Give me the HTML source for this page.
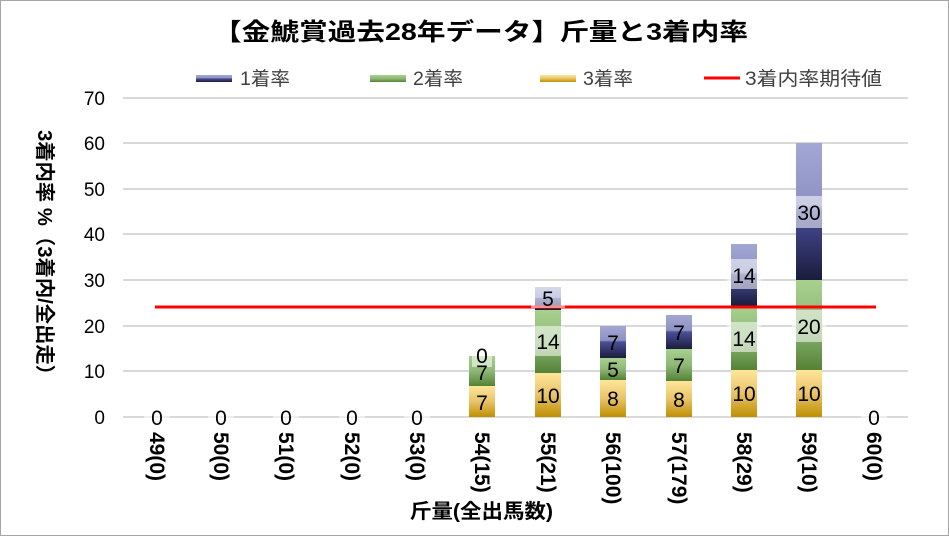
<!DOCTYPE html>
<html><head><meta charset="utf-8"><style>
html,body{margin:0;padding:0;background:#fff}
svg{display:block;font-family:"Liberation Sans","Noto Sans CJK JP",sans-serif}
</style></head><body>
<svg width="949" height="536" viewBox="0 0 949 536" xmlns="http://www.w3.org/2000/svg">
<defs>
<linearGradient id="b" x1="0" y1="0" x2="0" y2="1"><stop offset="0" stop-color="#a3a7d4"/><stop offset="0.45" stop-color="#8d92c2"/><stop offset="0.5" stop-color="#4a4f9a"/><stop offset="1" stop-color="#1a1c3c"/></linearGradient>
<linearGradient id="g" x1="0" y1="0" x2="0" y2="1"><stop offset="0" stop-color="#a8d18e"/><stop offset="0.5" stop-color="#8fb878"/><stop offset="1" stop-color="#548235"/></linearGradient>
<linearGradient id="y" x1="0" y1="0" x2="0" y2="1"><stop offset="0" stop-color="#ffe699"/><stop offset="0.5" stop-color="#e8c36a"/><stop offset="1" stop-color="#bf8f00"/></linearGradient>
</defs>
<rect x="0.5" y="0.5" width="948" height="535" fill="#fff" stroke="#a6a6a6"/>
<text x="213" y="40" font-size="24" font-weight="bold" textLength="535" lengthAdjust="spacingAndGlyphs">【金鯱賞過去28年データ】斤量と3着内率</text>
<g font-size="19" fill="#404040">
<rect x="196" y="75" width="36" height="7" fill="url(#b)"/><text x="240" y="85" textLength="50" lengthAdjust="spacingAndGlyphs">1着率</text>
<rect x="370" y="75" width="36" height="7" fill="url(#g)"/><text x="413" y="85" textLength="50" lengthAdjust="spacingAndGlyphs">2着率</text>
<rect x="540" y="75" width="36" height="7" fill="url(#y)"/><text x="583" y="85" textLength="50" lengthAdjust="spacingAndGlyphs">3着率</text>
<line x1="704" y1="78" x2="740" y2="78" stroke="#f00" stroke-width="3"/><text x="745" y="85" textLength="137" lengthAdjust="spacingAndGlyphs">3着内率期待値</text>
</g>
<g stroke="#d9d9d9" stroke-width="2">
<line x1="123" x2="908" y1="98" y2="98"/><line x1="123" x2="908" y1="143" y2="143"/><line x1="123" x2="908" y1="189" y2="189"/><line x1="123" x2="908" y1="234" y2="234"/><line x1="123" x2="908" y1="280" y2="280"/><line x1="123" x2="908" y1="326" y2="326"/><line x1="123" x2="908" y1="371" y2="371"/><line x1="123" x2="908" y1="417" y2="417"/>
</g>
<g font-size="19" text-anchor="end">
<text x="105" y="105">70</text><text x="105" y="150">60</text><text x="105" y="196">50</text><text x="105" y="241">40</text><text x="105" y="287">30</text><text x="105" y="333">20</text><text x="105" y="378">10</text><text x="105" y="424">0</text>
</g>
<text transform="translate(38,130) rotate(90)" font-size="20" font-weight="bold" textLength="255" lengthAdjust="spacingAndGlyphs">3着内率 %（3着内/全出走）</text>
<rect x="469" y="386" width="26" height="31" fill="url(#y)"/><rect x="469" y="356" width="26" height="30" fill="url(#g)"/>
<rect x="535" y="373" width="26" height="44" fill="url(#y)"/><rect x="535" y="310" width="26" height="63" fill="url(#g)"/><rect x="535" y="287" width="26" height="23" fill="url(#b)"/>
<rect x="600" y="380" width="26" height="37" fill="url(#y)"/><rect x="600" y="358" width="26" height="22" fill="url(#g)"/><rect x="600" y="326" width="26" height="32" fill="url(#b)"/>
<rect x="666" y="381" width="26" height="36" fill="url(#y)"/><rect x="666" y="349" width="26" height="32" fill="url(#g)"/><rect x="666" y="315" width="26" height="34" fill="url(#b)"/>
<rect x="731" y="370" width="26" height="47" fill="url(#y)"/><rect x="731" y="306" width="26" height="64" fill="url(#g)"/><rect x="731" y="244" width="26" height="62" fill="url(#b)"/>
<rect x="796" y="370" width="26" height="47" fill="url(#y)"/><rect x="796" y="280" width="26" height="90" fill="url(#g)"/><rect x="796" y="143" width="26" height="137" fill="url(#b)"/>
<line x1="155" y1="307" x2="876" y2="307" stroke="#f00" stroke-width="3"/>
<g fill="#fff" fill-opacity="0.55">
<rect x="144" y="403" width="26" height="28"/><rect x="208" y="403" width="26" height="28"/><rect x="273" y="403" width="26" height="28"/><rect x="339" y="403" width="26" height="28"/><rect x="404" y="403" width="26" height="28"/><rect x="861" y="403" width="26" height="28"/>
<rect x="472" y="341" width="20" height="26"/><rect x="531" y="326" width="34" height="30"/><rect x="531" y="286" width="34" height="22"/>
<rect x="727" y="259" width="34" height="30"/><rect x="727" y="322" width="34" height="30"/><rect x="792" y="196" width="34" height="32"/><rect x="792" y="310" width="34" height="32"/>
</g>
<g font-size="21" text-anchor="middle">
<text x="157" y="425">0</text><text x="221" y="425">0</text><text x="286" y="425">0</text><text x="352" y="425">0</text><text x="417" y="425">0</text><text x="874" y="425">0</text>
<text x="482" y="410">7</text><text x="482" y="380">7</text><text x="482" y="363">0</text>
<text x="548" y="403">10</text><text x="548" y="349">14</text><text x="548" y="306">5</text>
<text x="613" y="406">8</text><text x="613" y="377">5</text><text x="613" y="350">7</text>
<text x="679" y="407">8</text><text x="679" y="373">7</text><text x="679" y="340">7</text>
<text x="744" y="401">10</text><text x="744" y="346">14</text><text x="744" y="283">14</text>
<text x="809" y="401">10</text><text x="809" y="334">20</text><text x="809" y="220">30</text>
</g>
<g font-size="21" font-weight="bold">
<text transform="translate(150,432) rotate(90)">49(0)</text>
<text transform="translate(214,432) rotate(90)">50(0)</text>
<text transform="translate(279,432) rotate(90)">51(0)</text>
<text transform="translate(345,432) rotate(90)">52(0)</text>
<text transform="translate(410,432) rotate(90)">53(0)</text>
<text transform="translate(475,432) rotate(90)">54(15)</text>
<text transform="translate(541,432) rotate(90)">55(21)</text>
<text transform="translate(606,432) rotate(90)">56(100)</text>
<text transform="translate(672,432) rotate(90)">57(179)</text>
<text transform="translate(737,432) rotate(90)">58(29)</text>
<text transform="translate(802,432) rotate(90)">59(10)</text>
<text transform="translate(867,432) rotate(90)">60(0)</text>
</g>
<text x="410" y="518" font-size="20" font-weight="bold" textLength="143" lengthAdjust="spacingAndGlyphs">斤量(全出馬数)</text>
</svg>
</body></html>
